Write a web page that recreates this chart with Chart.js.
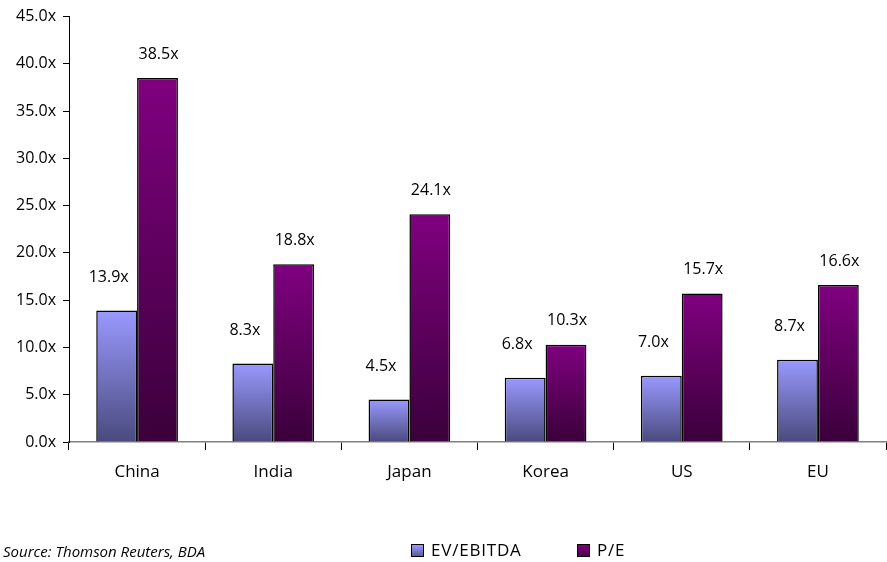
<!DOCTYPE html>
<html>
<head>
<meta charset="utf-8">
<script src="https://cdn.jsdelivr.net/npm/chart.js@4"></script>
<style>
  html, body { margin: 0; padding: 0; background: #fff; }
  .wrap { position: relative; width: 887px; height: 562px; }
  .source { position: absolute; left: 3px; top: 541px; font: italic 15px "Open Sans", sans-serif; color: #000; }
  .legend { position: absolute; top: 538px; font: 17px "Open Sans", sans-serif; letter-spacing: 0.8px; color: #000; }
  .legend span.box { display: inline-block; width: 11px; height: 11px; border: 1px solid #000; vertical-align: -1px; margin-right: 7px; }
</style>
</head>
<body>
<div class="wrap">
  <canvas id="chart" width="887" height="562"></canvas>
  <div class="source">Source: Thomson Reuters, BDA</div>
  <div class="legend" style="left:411px"><span class="box" style="background:linear-gradient(#9a9aff,#5c5c9c)"></span>EV/EBITDA</div>
  <div class="legend" style="left:577px"><span class="box" style="background:linear-gradient(#800080,#4a004a)"></span>P/E</div>
</div>
<script>
const categories = ['China', 'India', 'Japan', 'Korea', 'US', 'EU']
const evEbitda = [13.9, 8.3, 4.5, 6.8, 7.0, 8.7]
const peRatio = [38.5, 18.8, 24.1, 10.3, 15.7, 16.6]
const yTicks = [0, 5, 10, 15, 20, 25, 30, 35, 40, 45]

const fontFamily = '"Open Sans", sans-serif'

// each bar gets its own top-to-bottom gradient
const barGradient = function (c, top, bottom) {
    const chart = c.chart
    const y = chart.scales.y
    if (!chart.chartArea || !y || c.raw === undefined) return top
    const y0 = y.getPixelForValue(c.raw)
    const y1 = y.getPixelForValue(0)
    const g = chart.ctx.createLinearGradient(0, y0, 0, y1)
    g.addColorStop(0, top)
    g.addColorStop(1, bottom)
    return g
}

// value labels above each bar
const barLabels = {
    id: 'barLabels',
    afterDatasetsDraw(chart) {
        const ctx = chart.ctx
        ctx.save()
        ctx.font = '16px ' + fontFamily
        ctx.fillStyle = '#000'
        ctx.textAlign = 'center'
        ctx.textBaseline = 'bottom'
        chart.data.datasets.forEach((ds, i) => {
            const meta = chart.getDatasetMeta(i)
            meta.data.forEach((bar, j) => {
                const shift = i === 0 ? -8 : 1
                const lift = i === 0 ? 25 : 16
                ctx.fillText(ds.data[j].toFixed(1) + 'x', bar.x + shift, bar.y - lift)
            })
        })
        ctx.restore()
    }
}

const ctx = document.getElementById('chart').getContext('2d')
new Chart(ctx, {
    type: 'bar',
    data: {
        labels: categories,
        datasets: [{
            label: 'EV/EBITDA',
            data: evEbitda,
            backgroundColor: c => barGradient(c, '#9999ff', '#4a4a7e'),
            borderColor: '#000',
            borderWidth: 1.5
        }, {
            label: 'P/E',
            data: peRatio,
            backgroundColor: c => barGradient(c, '#800080', '#3a003a'),
            borderColor: '#000',
            borderWidth: 1.5
        }]
    },
    options: {
        responsive: false,
        animation: false,
        layout: {padding: {top: 14, right: 1, left: 0, bottom: 0}},
        datasets: {bar: {categoryPercentage: 0.6, barPercentage: 1.0}},
        plugins: {
            legend: {display: false},
            tooltip: {enabled: false}
        },
        scales: {
            x: {
                grid: {drawOnChartArea: false, tickLength: 8, color: '#000', offset: true},
                border: {color: '#808080', width: 1.5},
                ticks: {font: {family: fontFamily, size: 17}, color: '#000', padding: 12},
                afterFit: s => { s.height = 120 }
            },
            y: {
                min: 0,
                max: 45,
                afterBuildTicks: s => { s.ticks = yTicks.map(v => ({value: v})) },
                grid: {drawOnChartArea: false, tickLength: 6, color: '#000'},
                border: {color: '#000', width: 1},
                ticks: {
                    font: {family: fontFamily, size: 16},
                    color: '#000',
                    padding: 7,
                    callback: v => v.toFixed(1) + 'x'
                },
                afterFit: s => { s.width = 69 }
            }
        }
    },
    plugins: [barLabels]
})
</script>
</body>
</html>
